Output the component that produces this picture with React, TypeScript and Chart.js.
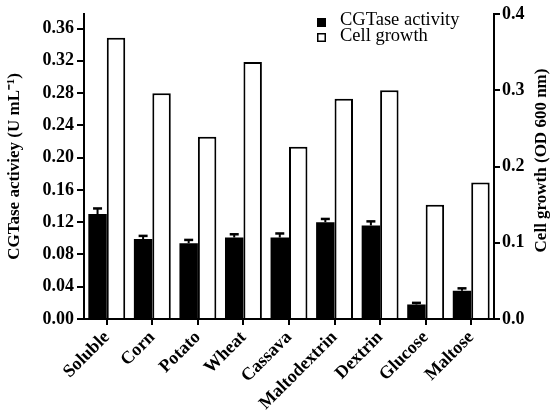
import React, { useEffect, useRef } from "react";
import { Chart, registerables } from "chart.js";

Chart.register(...registerables);

const categories = ["Soluble", "Corn", "Potato", "Wheat", "Cassava", "Maltodextrin", "Dextrin", "Glucose", "Maltose"];
const cgtase = [0.130, 0.099, 0.094, 0.101, 0.101, 0.120, 0.116, 0.018, 0.035];
const cgtaseErr = [0.007, 0.004, 0.004, 0.004, 0.005, 0.004, 0.005, 0.002, 0.003];
const cellGrowth = [0.369, 0.296, 0.239, 0.337, 0.226, 0.289, 0.300, 0.150, 0.179];
const leftTicks = [0, 0.04, 0.08, 0.12, 0.16, 0.2, 0.24, 0.28, 0.32, 0.36];
const rightTicks = [0, 0.1, 0.2, 0.3, 0.4];
const legendLabels = ["CGTase activity", "Cell growth"];
const leftTitle = "CGTase activiey (U mL⁻¹)";
const rightTitle = "Cell growth (OD 600 nm)";

const FONT = "'Liberation Serif', 'Times New Roman', serif";

const errorBarPlugin = {
  id: "errorBars",
  afterDatasetsDraw(chart: any) {
    const meta = chart.getDatasetMeta(0);
    const yScale = chart.scales.y;
    const ctx = chart.ctx;
    ctx.save();
    ctx.strokeStyle = "#000";
    meta.data.forEach((bar: any, i: number) => {
      const x = bar.x;
      const yVal = yScale.getPixelForValue(cgtase[i]);
      const yTop = yScale.getPixelForValue(cgtase[i] + cgtaseErr[i]);
      ctx.lineWidth = 2;
      ctx.beginPath();
      ctx.moveTo(x, yVal);
      ctx.lineTo(x, yTop);
      ctx.stroke();
      ctx.lineWidth = 2.5;
      ctx.beginPath();
      ctx.moveTo(x - 4.5, yTop);
      ctx.lineTo(x + 4.5, yTop);
      ctx.stroke();
    });
    ctx.restore();
  },
};

const legendPlugin = {
  id: "customLegend",
  afterDraw(chart: any) {
    const ctx = chart.ctx;
    ctx.save();
    ctx.fillStyle = "#000";
    ctx.fillRect(317, 18, 9, 9);
    ctx.strokeStyle = "#000";
    ctx.lineWidth = 1.5;
    ctx.strokeRect(317.75, 33.75, 7.5, 7.5);
    ctx.font = `18.5px ${FONT}`;
    ctx.textAlign = "left";
    ctx.textBaseline = "alphabetic";
    ctx.fillText(legendLabels[0], 340, 25);
    ctx.fillText(legendLabels[1], 340, 40.5);
    // right axis title, reading bottom to top
    const area = chart.chartArea;
    ctx.font = `bold 17px ${FONT}`;
    ctx.textAlign = "center";
    ctx.textBaseline = "middle";
    ctx.translate(542, (area.top + area.bottom) / 2 - 6);
    ctx.rotate(-Math.PI / 2);
    ctx.fillText(rightTitle, 0, 0);
    ctx.restore();
  },
};

export default function App() {
  const ref = useRef<HTMLCanvasElement | null>(null);
  useEffect(() => {
    if (!ref.current) return;
    const tickFont = { family: FONT, size: 18, weight: "bold" as const };
    const titleFont = { family: FONT, size: 17, weight: "bold" as const, lineHeight: 1.2 };
    const chart = new Chart(ref.current, {
      type: "bar",
      data: {
        labels: categories,
        datasets: [
          {
            label: legendLabels[0],
            data: cgtase,
            yAxisID: "y",
            backgroundColor: "#000",
            borderColor: "#000",
            borderWidth: 0,
            categoryPercentage: 0.81,
            barPercentage: 1.0,
          },
          {
            label: legendLabels[1],
            data: cellGrowth,
            yAxisID: "y1",
            backgroundColor: "#fff",
            borderColor: "#000",
            borderWidth: 2,
            borderSkipped: "bottom",
            categoryPercentage: 0.81,
            barPercentage: 1.0,
          },
        ],
      },
      options: {
        responsive: false,
        animation: false,
        layout: { padding: { top: 14, left: 0, right: 0, bottom: 0 } },
        plugins: {
          legend: { display: false },
          tooltip: { enabled: false },
        },
        scales: {
          x: {
            offset: true,
            afterFit: (s: any) => {
              s.height = 94;
            },
            grid: {
              display: true,
              offset: false,
              drawOnChartArea: false,
              drawTicks: true,
              tickLength: 6,
              color: "#000",
              lineWidth: 2,
            },
            border: { display: true, color: "#000", width: 2 },
            ticks: {
              color: "#000",
              font: tickFont,
              maxRotation: 45,
              minRotation: 45,
              padding: 2,
              autoSkip: false,
            },
          },
          y: {
            position: "left",
            min: 0,
            max: 0.378,
            afterBuildTicks: (s: any) => {
              s.ticks = leftTicks.map((v) => ({ value: v }));
            },
            afterFit: (s: any) => {
              s.width = 84;
            },
            grid: {
              display: true,
              drawOnChartArea: false,
              drawTicks: true,
              tickLength: 7,
              color: "#000",
              lineWidth: 2,
            },
            border: { display: true, color: "#000", width: 2 },
            ticks: {
              color: "#000",
              font: tickFont,
              padding: 3,
              callback: (v: any) => Number(v).toFixed(2),
            },
            title: {
              display: true,
              text: leftTitle,
              color: "#000",
              font: titleFont,
              padding: { top: 4, bottom: 0 },
            },
          },
          y1: {
            position: "right",
            min: 0,
            max: 0.4,
            afterBuildTicks: (s: any) => {
              s.ticks = rightTicks.map((v) => ({ value: v }));
            },
            afterFit: (s: any) => {
              s.width = 57;
            },
            grid: {
              display: true,
              drawOnChartArea: false,
              drawTicks: true,
              tickLength: 6,
              color: "#000",
              lineWidth: 2,
            },
            border: { display: true, color: "#000", width: 2 },
            ticks: {
              color: "#000",
              font: tickFont,
              padding: 2,
              callback: (v: any) => Number(v).toFixed(1),
            },
          },
        },
      },
      plugins: [errorBarPlugin, legendPlugin],
    });
    return () => chart.destroy();
  }, []);
  return (
    <div style={{ position: "fixed", left: 0, top: 0, width: 551, height: 413, background: "#fff" }}>
      <canvas ref={ref} width={551} height={413} style={{ display: "block" }} />
    </div>
  );
}
